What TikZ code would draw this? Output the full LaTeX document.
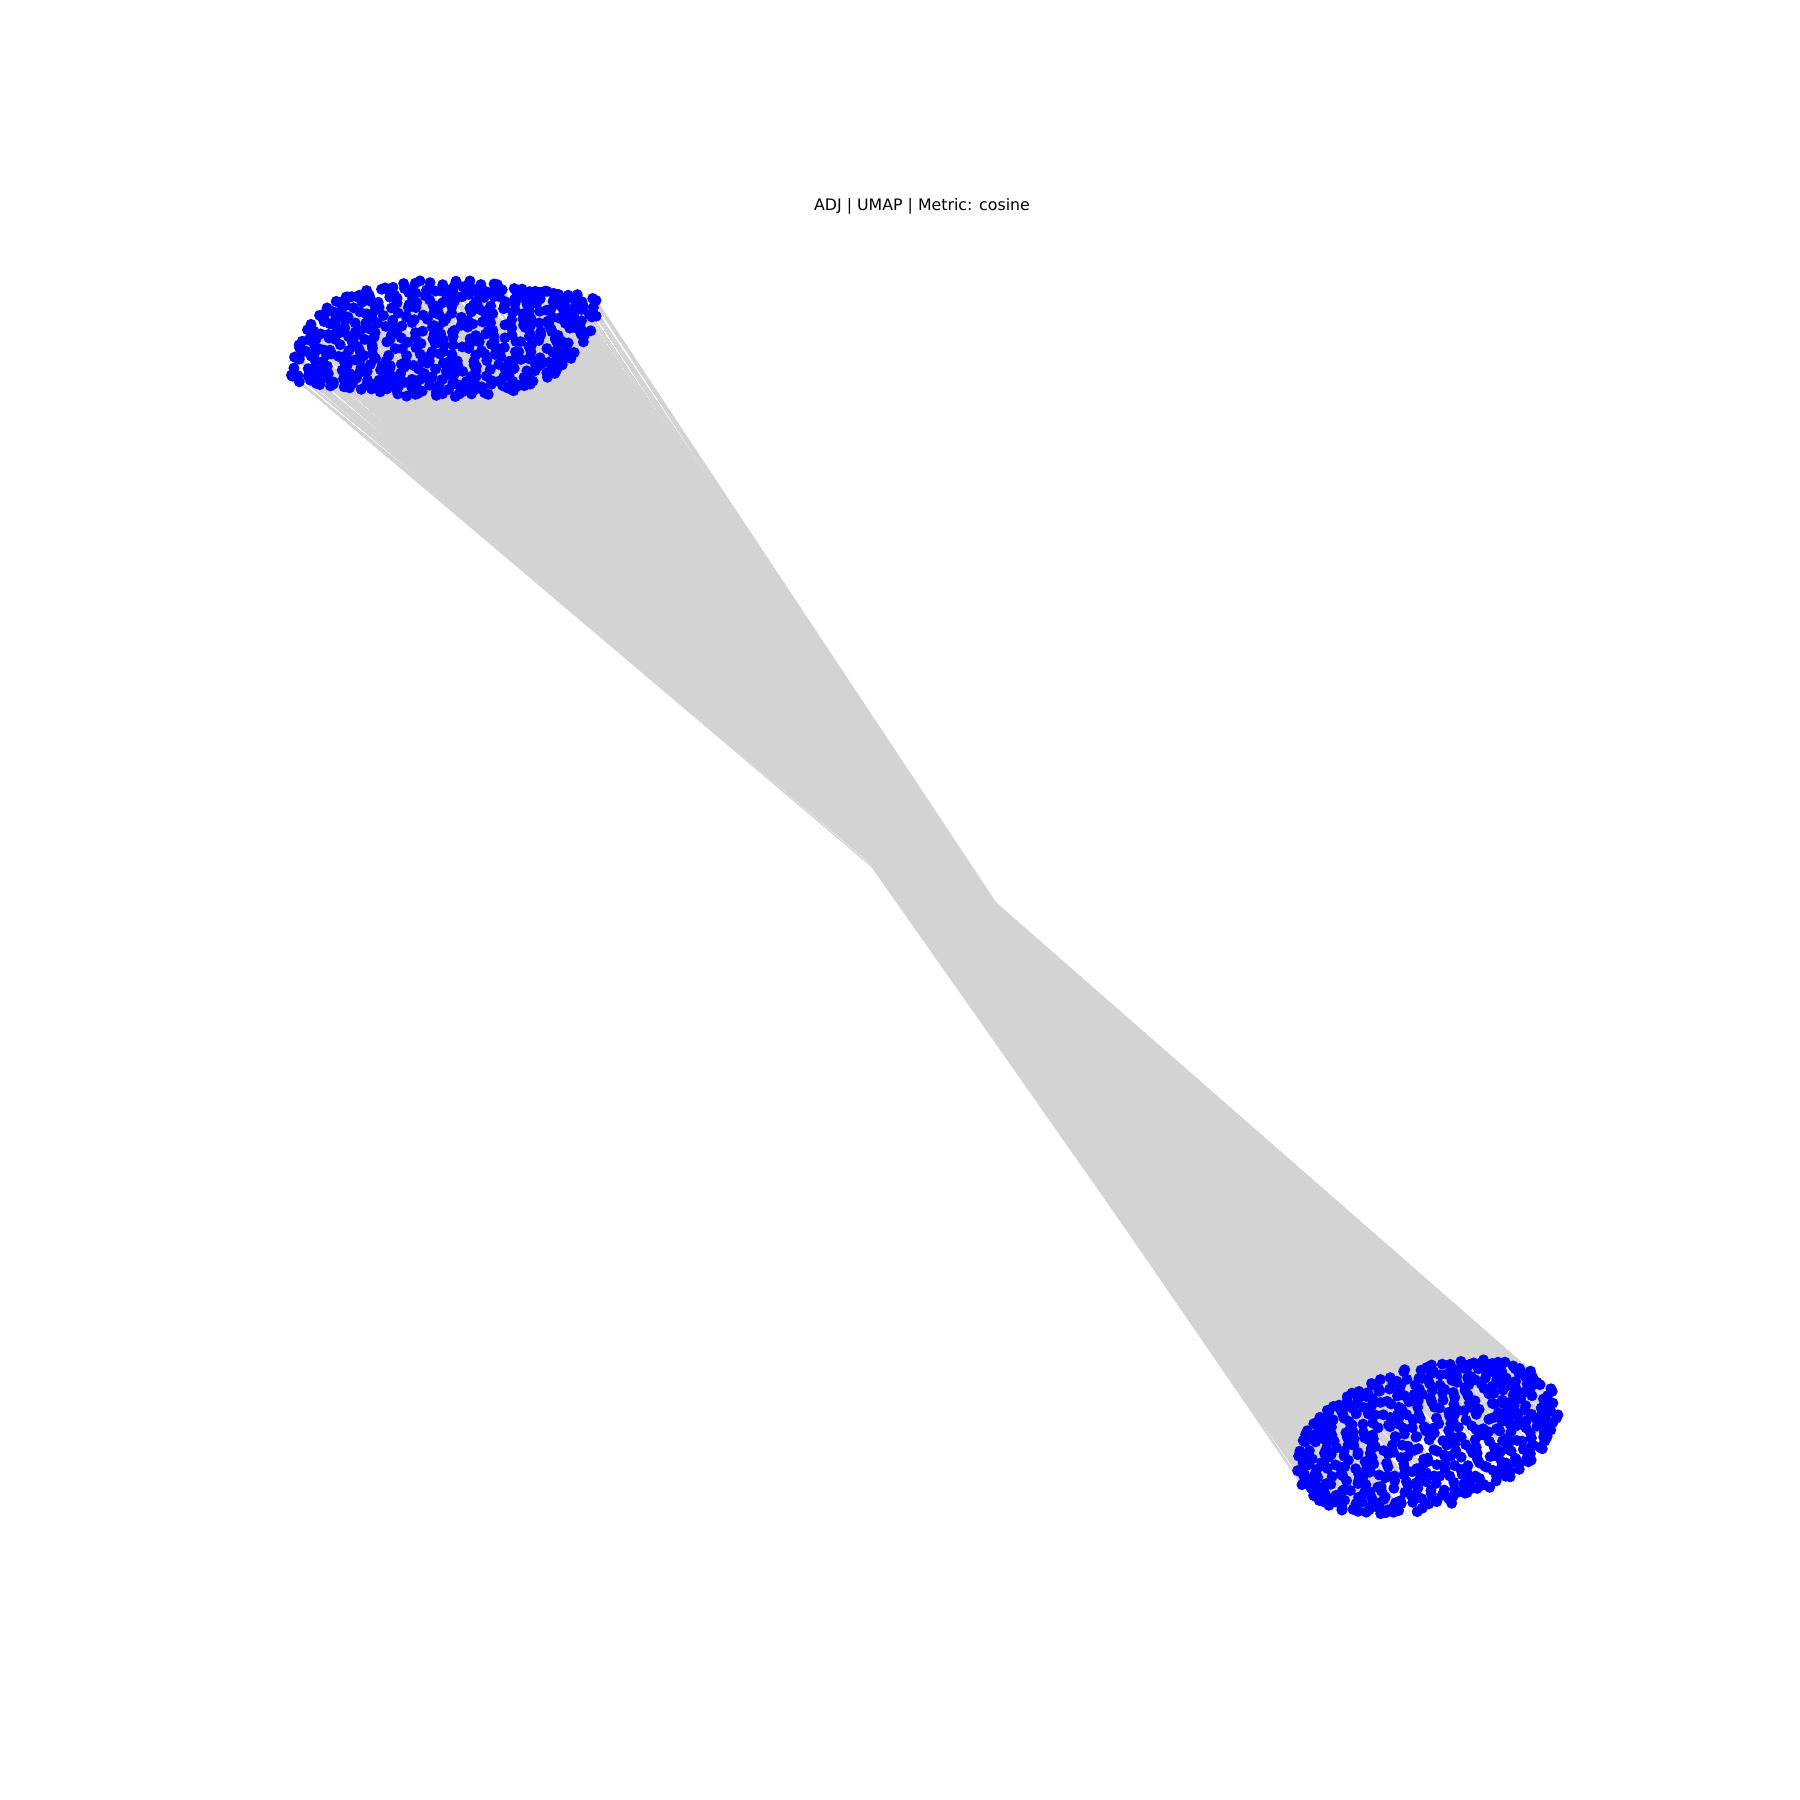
\documentclass[tikz,border=0pt]{standalone}
\usepackage{fontspec}
\setmainfont{DejaVu Sans}
\definecolor{edgegray}{RGB}{211,211,211}
\definecolor{nodeblue}{RGB}{0,0,255}
\begin{document}
\begin{tikzpicture}[x=1pt,y=-1pt,
  dot/.style={circle,fill=nodeblue,draw=none,inner sep=0pt,minimum size=11pt},
  edge/.style={draw=edgegray,line width=1.3pt},
  title/.style={font=\fontsize{15.8}{18}\selectfont,text=black,anchor=base}]
\fill[white] (0,0) rectangle (1800,1800);
\useasboundingbox (0,0) rectangle (1800,1800);
\node[title] (title) at (922,210) {ADJ | UMAP | Metric: cosine};
\pgfmathsetseed{11}
% grid: indices 0..22, centre 11, half width 11.5
% cluster B (lower right): tilted ellipse on a jittered grid
\foreach \m in {0,...,22}{
  \foreach \n in {0,...,22}{
    \pgfmathsetmacro\sx{(\m-11+rnd-0.5)/11.5}
    \pgfmathsetmacro\sy{(\n-11+rnd-0.5)/11.5}
    \pgfmathsetmacro\qx{\sx*sqrt(1-\sy*\sy/2)}
    \pgfmathsetmacro\qy{\sy*sqrt(1-\sx*\sx/2)}
    \pgfmathsetmacro\u{136*\qx}
    \pgfmathsetmacro\v{71*\qy}
    \pgfmathsetmacro\x{1427+\u*0.961+\v*0.276}
    \pgfmathsetmacro\y{1437-\u*0.276+\v*0.961}
    \coordinate (b-\m-\n) at (\x,\y);
  }
}
% cluster A (upper left) and its edges to cluster B
\foreach \m in {0,...,22}{
  \pgfmathsetmacro\sxo{(\m-11)/11.5}
  \pgfmathsetmacro\shs{ifthenelse(\sxo<=(-0.571),-0.762+1.25*(-0.571-\sxo),ifthenelse(\sxo<0.286,-0.762+0.889*(\sxo+0.571),1.286*(\sxo-0.286)))}
  \foreach \n in {0,...,22}{
    \pgfmathsetmacro\sx{(\m-11+rnd-0.5)/11.5}
    \pgfmathsetmacro\sy{(\n-11+rnd-0.5)/11.5}
    \pgfmathsetmacro\px{\sx*sqrt(1-\sy*\sy/2)}
    \pgfmathsetmacro\py{\sy*sqrt(1-\sx*\sx/2)}
    \pgfmathsetmacro\x{443+155*\px}
    \pgfmathsetmacro\y{339+59*\py-32*\px^5}
    \coordinate (a-\m-\n) at (\x,\y);
    \pgfmathsetmacro\pa{0.745*(\x-443)-0.667*(\y-339)}
    \pgfmathsetmacro\pb{ifthenelse(\pa<(-77),97+(\pa+137)*0.3833,ifthenelse(\pa<53,120-(\pa+77)*1.8,-114+(\pa-53)*0.5))}
    \pgfmathtruncatemacro\nb{max(0,min(22,round(22-\n+11.5*\shs)))}
    \pgfmathsetmacro\tsy{(\nb-11)/11.5}
    \pgfmathsetmacro\tqy{\tsy*sqrt(1-(\pb/122.4)^2/2)}
    \pgfmathsetmacro\tqx{(\pb+30.9*\tqy)/122.4}
    \pgfmathsetmacro\tsx{\tqx/sqrt(1-\tsy*\tsy/2)}
    \pgfmathtruncatemacro\mb{max(0,min(22,round(11+11.5*\tsx)))}
    \foreach \dm in {-1,0,1}{
      \foreach \dn in {-1,0,1}{
        \pgfmathtruncatemacro\mm{max(0,min(22,\mb+\dm))}
        \pgfmathtruncatemacro\nn{max(0,min(22,\nb+\dn))}
        \draw[edge] (a-\m-\n) -- (b-\mm-\nn);
      }
    }
  }
}
% nodes on top of the edges
\foreach \m in {0,...,22}{
  \foreach \n in {0,...,22}{
    \node[dot] (na-\m-\n) at (a-\m-\n) {};
    \node[dot] (nb-\m-\n) at (b-\m-\n) {};
  }
}
\end{tikzpicture}
\end{document}
